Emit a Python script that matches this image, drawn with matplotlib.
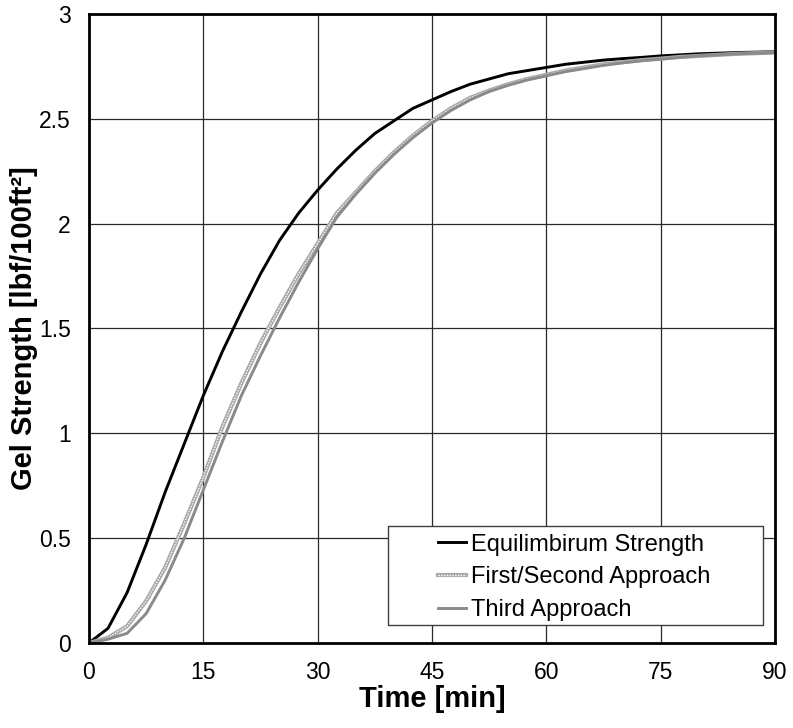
import matplotlib
matplotlib.use('Agg')
import matplotlib.pyplot as plt
from matplotlib.patches import Rectangle

plt.rcParams['font.family'] = ['Liberation Sans', 'DejaVu Sans']

# time axis, every 2.5 min
t = [0, 2.5, 5, 7.5, 10, 12.5, 15, 17.5, 20, 22.5, 25, 27.5, 30, 32.5, 35, 37.5, 40, 42.5,
     45, 47.5, 50, 52.5, 55, 57.5, 60, 62.5, 65, 67.5, 70, 72.5, 75, 77.5, 80, 82.5, 85, 87.5, 90]

equilibrium = [0, 0.07, 0.24, 0.47, 0.72, 0.95, 1.18, 1.39, 1.58, 1.76, 1.92, 2.05, 2.16, 2.26,
               2.35, 2.43, 2.49, 2.55, 2.59, 2.63, 2.665, 2.69, 2.715, 2.73, 2.745, 2.76, 2.77,
               2.78, 2.787, 2.793, 2.80, 2.805, 2.81, 2.813, 2.816, 2.818, 2.82]

first_second = [0, 0.025, 0.08, 0.20, 0.36, 0.57, 0.79, 1.03, 1.24, 1.43, 1.60, 1.76, 1.905, 2.05,
                2.15, 2.25, 2.34, 2.42, 2.49, 2.55, 2.60, 2.635, 2.665, 2.69, 2.71, 2.73, 2.745,
                2.76, 2.77, 2.78, 2.787, 2.795, 2.80, 2.805, 2.81, 2.813, 2.816]

third = [0, 0.018, 0.046, 0.14, 0.30, 0.50, 0.73, 0.96, 1.18, 1.37, 1.55, 1.72, 1.88, 2.03,
         2.14, 2.24, 2.33, 2.41, 2.48, 2.54, 2.59, 2.63, 2.66, 2.685, 2.705, 2.725, 2.74,
         2.755, 2.767, 2.777, 2.785, 2.793, 2.80, 2.805, 2.81, 2.813, 2.816]

xticks = [0, 15, 30, 45, 60, 75, 90]
yticks = [0, 0.5, 1, 1.5, 2, 2.5, 3]
ytick_labels = ['0', '0.5', '1', '1.5', '2', '2.5', '3']

fig = plt.figure(figsize=(7.93, 7.28), dpi=100)
ax = fig.add_axes([0.1122, 0.1168, 0.8651, 0.864])

ax.grid(True, color='#2a2a2a', linewidth=0.9, zorder=0)
ax.set_axisbelow(True)

l1, = ax.plot(t, equilibrium, color='black', linewidth=2.1, zorder=2)
l2a, = ax.plot(t, first_second, color='#a8a8a8', linewidth=3.0, zorder=2)
l2b, = ax.plot(t, first_second, color='white', linewidth=1.0, linestyle=(0, (1, 1)), zorder=2)
l3, = ax.plot(t, third, color='#8a8a8a', linewidth=2.1, zorder=2)

ax.set_xlim(0, 90)
ax.set_ylim(0, 3)
ax.set_xticks(xticks)
ax.set_yticks(yticks)
ax.set_yticklabels(ytick_labels)
ax.tick_params(length=0, labelsize=16.5)
ax.tick_params(axis='y', pad=13)
ax.tick_params(axis='x', pad=13)

for s in ax.spines.values():
    s.set_linewidth(2.0)
    s.set_color('black')

ax.set_xlabel('Time [min]', fontsize=21, fontweight='bold', labelpad=1)
ax.set_ylabel('Gel Strength [lbf/100ft²]', fontsize=21, fontweight='bold', labelpad=1)

# legend box (Excel style, wider than the text)
box = Rectangle((0.436, 0.0286), 0.5465, 0.157, transform=ax.transAxes,
                facecolor='white', edgecolor='#404040', linewidth=1.0, zorder=3)
ax.add_patch(box)

leg = ax.legend([l1, (l2a, l2b), l3],
                ['Equilimbirum Strength', 'First/Second Approach', 'Third Approach'],
                loc='upper left', bbox_to_anchor=(0.509, 0.174), frameon=False,
                fontsize=17, handlelength=1.2, handletextpad=0.2, borderpad=0,
                borderaxespad=0, labelspacing=0.45)
leg.set_zorder(4)

fig.savefig('out.png', dpi=100)
